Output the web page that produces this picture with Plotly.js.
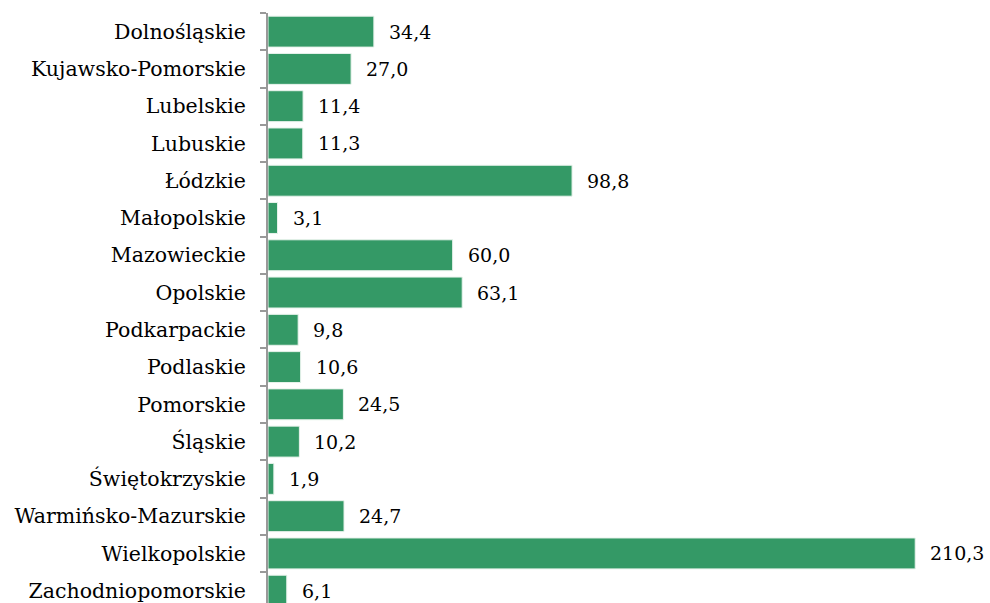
<!DOCTYPE html>
<html>
<head>
<meta charset="utf-8">
<script src="https://cdn.plot.ly/plotly-3.0.1.min.js"></script>
<style>html,body{margin:0;padding:0;background:#fff;}#chart{width:990px;height:603px;}</style>
</head>
<body>
<div id="chart"></div>
<script>
const regions = ["Dolnośląskie","Kujawsko-Pomorskie","Lubelskie","Lubuskie","Łódzkie","Małopolskie","Mazowieckie","Opolskie","Podkarpackie","Podlaskie","Pomorskie","Śląskie","Świętokrzyskie","Warmińsko-Mazurskie","Wielkopolskie","Zachodniopomorskie"];
const values = [34.4,27.0,11.4,11.3,98.8,3.1,60.0,63.1,9.8,10.6,24.5,10.2,1.9,24.7,210.3,6.1];
const labels = values.map(v => v.toFixed(1).replace('.', ','));

const font = "DejaVu Serif";

const trace = {
  type: 'bar',
  orientation: 'h',
  y: regions,
  x: values,
  marker: {color: '#349966', line: {color: '#e8f3ec', width: 1}},
  width: 0.83,
  hoverinfo: 'none'
};

const annotations = values.map((v, i) => ({
  x: v, y: regions[i], xref: 'x', yref: 'y',
  text: labels[i], showarrow: false, xanchor: 'left', xshift: 13,
  font: {family: font, size: 19, color: '#000'}
}));

const layout = {
  width: 990, height: 603,
  margin: {l: 268, r: 0, t: 13, b: 0},
  paper_bgcolor: '#fff', plot_bgcolor: '#fff',
  showlegend: false,
  xaxis: {range: [0, 234.6], visible: false, fixedrange: true},
  yaxis: {
    type: 'category',
    range: [15.33, -0.5],
    tickson: 'boundaries',
    ticks: 'outside', ticklen: 6, tickwidth: 2, tickcolor: '#999',
    showline: true, linecolor: '#999', linewidth: 2,
    showgrid: false, zeroline: false,
    ticklabelstandoff: 16,
    tickfont: {family: font, size: 20.5, color: '#000'}
  },
  annotations: annotations
};

Plotly.newPlot('chart', [trace], layout, {staticPlot: true});
</script>
</body>
</html>
